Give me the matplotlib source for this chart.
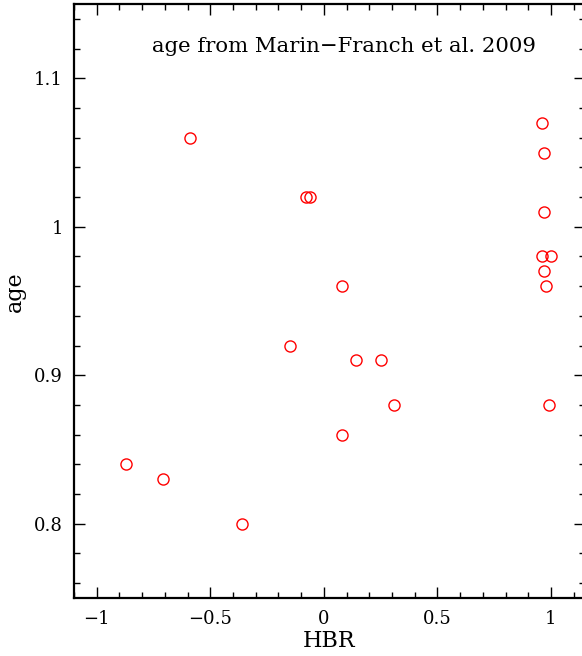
import numpy as np
import matplotlib.pyplot as plt
from matplotlib.ticker import MultipleLocator

# HBR vs age (Marin-Franch et al. 2009)
hbr = [-0.87, -0.71, -0.59, -0.36, -0.15, -0.08, -0.06, 0.08, 0.08, 0.14,
       0.25, 0.31, 0.96, 0.97, 0.97, 0.96, 1.00, 0.97, 0.98, 0.99]
age = [0.84, 0.83, 1.06, 0.80, 0.92, 1.02, 1.02, 0.96, 0.86, 0.91,
       0.91, 0.88, 1.07, 1.05, 1.01, 0.98, 0.98, 0.97, 0.96, 0.88]

plt.rcParams['font.family'] = 'DejaVu Serif'

fig = plt.figure(figsize=(5.82, 6.56), dpi=100)
ax = fig.add_axes([74 / 582, 58 / 656, 511 / 582, 594 / 656])

ax.plot(hbr, age, linestyle='none', marker='o', markersize=8,
        markerfacecolor='none', markeredgecolor='red', markeredgewidth=1)

ax.set_xlim(-1.1, 1.15)
ax.set_ylim(0.75, 1.15)
ax.xaxis.set_minor_locator(MultipleLocator(0.1))
ax.yaxis.set_minor_locator(MultipleLocator(0.02))
ax.set_xticks([-1, -0.5, 0, 0.5, 1])
ax.set_xticklabels(['\u22121', '\u22120.5', '0', '0.5', '1'])
ax.set_yticks([0.8, 0.9, 1.0, 1.1])
ax.set_yticklabels(['0.8', '0.9', '1', '1.1'])

ax.tick_params(which='both', direction='in', top=True, right=True, width=1)
ax.tick_params(which='major', length=8, labelsize=13)
ax.tick_params(axis='x', which='major', pad=9)
ax.tick_params(axis='y', which='major', pad=8)
ax.tick_params(which='minor', length=4)
for sp in ax.spines.values():
    sp.set_linewidth(1.6)

ax.set_xlabel('HBR', fontsize=16, labelpad=1)
ax.set_ylabel('age', fontsize=16, labelpad=8)
ax.yaxis.set_label_coords(-0.095, 0.515)
ax.text(0.529, 0.928, 'age from Marin\u2212Franch et al. 2009', transform=ax.transAxes,
        ha='center', va='center', fontsize=15.3)

fig.savefig('out.png', dpi=100)
